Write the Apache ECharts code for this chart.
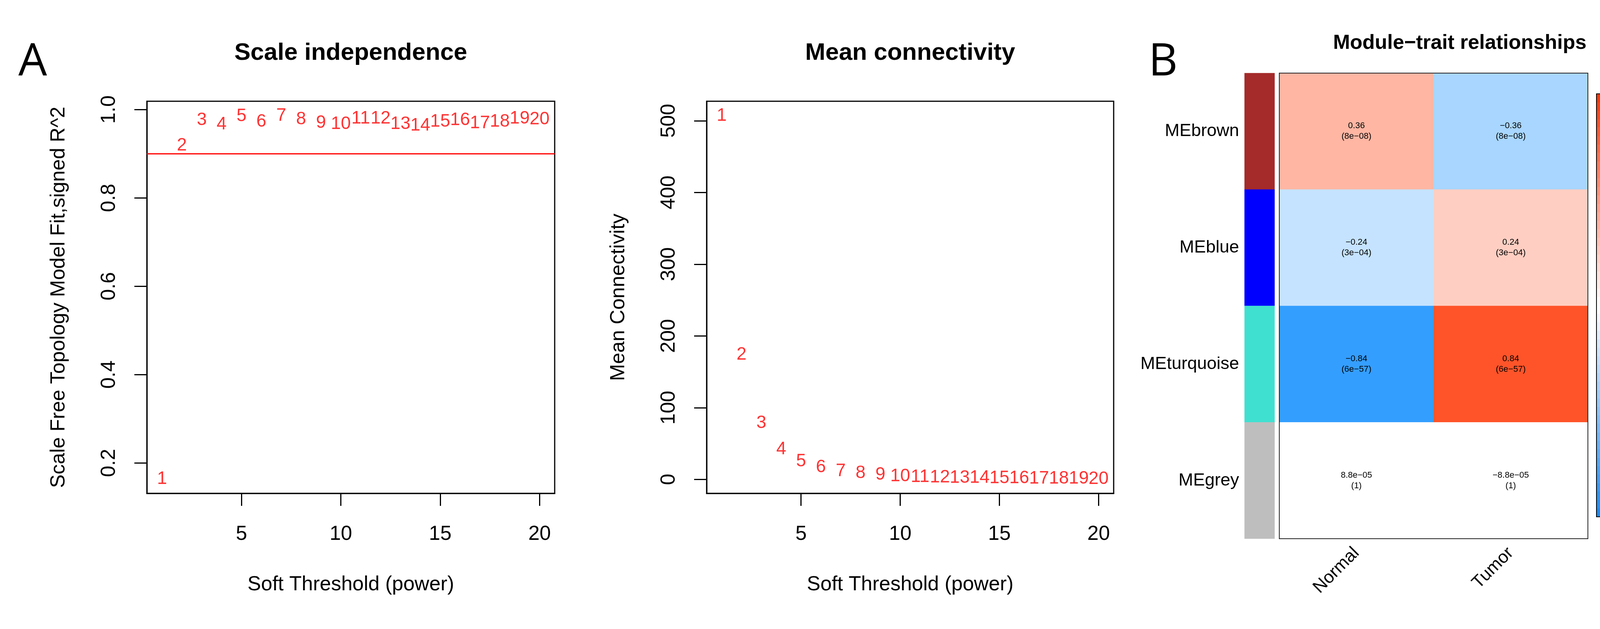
<!DOCTYPE html>
<html>
<head>
<meta charset="utf-8">
<script src="https://cdn.jsdelivr.net/npm/echarts@6/dist/echarts.min.js"></script>
<style>
  html, body { margin: 0; padding: 0; background: #fff; }
  #main { width: 4259px; height: 1609px; }
</style>
</head>
<body>
<div id="main"></div>
<script>
// soft threshold data
var powers = [1, 2, 3, 4, 5, 6, 7, 8, 9, 10, 11, 12, 13, 14, 15, 16, 17, 18, 19, 20];
var sftR2 = [0.164, 0.919, 0.976, 0.966, 0.985, 0.973, 0.986, 0.978, 0.970, 0.967,
             0.980, 0.980, 0.967, 0.964, 0.973, 0.976, 0.969, 0.973, 0.980, 0.978];
var meanK = [507, 174, 78.4, 42.1, 24.9, 16.7, 11.3, 8.6, 6.3, 4.1,
             3.5, 2.8, 2.3, 2.0, 1.7, 1.4, 1.2, 1.0, 0.9, 0.8];
var r2Cutoff = 0.9;
var xTicks = [5, 10, 15, 20];
var r2Ticks = [0.2, 0.4, 0.6, 0.8, 1.0];
var kTicks = [0, 100, 200, 300, 400, 500];

// module-trait data
var modules = ['MEbrown', 'MEblue', 'MEturquoise', 'MEgrey'];
var moduleColors = ['#A52A2A', '#0000FF', '#40E0D0', '#BEBEBE'];
var traits = ['Normal', 'Tumor'];
var corNormal = [0.36, -0.24, -0.84, 0.000088];
var corTumor = [-0.36, 0.24, 0.84, -0.000088];
var corTextNormal = ['0.36', '\u22120.24', '\u22120.84', '8.8e\u221205'];
var corTextTumor = ['\u22120.36', '0.24', '0.84', '\u22128.8e\u221205'];
var pText = ['8e\u221208', '3e\u221204', '6e\u221257', '1'];
var legendTicks = [-1, -0.5, 0, 0.5, 1];

var FONT = "'Liberation Sans', Arial, sans-serif";

// R style axis range: data range widened by 4% on each side
function rRange(arr) {
  var lo = Math.min.apply(null, arr), hi = Math.max.apply(null, arr);
  var d = (hi - lo) * 0.04;
  return [lo - d, hi + d];
}
var xr = rRange(powers);
var r2r = rRange(sftR2);
var kr = rRange(meanK);

// colour bar levels (50 steps like blueWhiteRed(50))
var barLevels = [];
for (var b = 0; b < 50; b++) barLevels.push(-1 + (b + 0.5) * 0.04);

var chart = echarts.init(document.getElementById('main'));

function xAxisFor(grid) {
  return {
    type: 'value', gridIndex: grid, min: xr[0], max: xr[1],
    axisLine: { show: true, onZero: false, lineStyle: { color: '#000', width: 3 } },
    axisTick: { show: true, inside: false, customValues: xTicks, length: 32, lineStyle: { color: '#000', width: 3 } },
    axisLabel: { customValues: xTicks, fontSize: 52, margin: 79, color: '#000', fontFamily: FONT },
    splitLine: { show: false },
    name: 'Soft Threshold (power)', nameLocation: 'middle', nameGap: 208,
    nameTextStyle: { fontSize: 52, color: '#000', fontFamily: FONT }
  };
}

function yAxisFor(grid, rng, ticks, title, fmt) {
  return {
    type: 'value', gridIndex: grid, min: rng[0], max: rng[1],
    axisLine: { show: true, onZero: false, lineStyle: { color: '#000', width: 3 } },
    axisTick: { show: true, inside: false, customValues: ticks, length: 32, lineStyle: { color: '#000', width: 3 } },
    axisLabel: { customValues: ticks, rotate: 90, fontSize: 52, margin: 70, color: '#000', fontFamily: FONT,
                 formatter: fmt },
    splitLine: { show: false },
    name: title, nameLocation: 'middle', nameGap: 199,
    nameTextStyle: { fontSize: 52, color: '#000', fontFamily: FONT }
  };
}

function labelSeries(grid, vals) {
  return {
    type: 'scatter', xAxisIndex: grid, yAxisIndex: grid,
    data: powers.map(function (p, i) { return [p, vals[i]]; }),
    symbol: 'circle', symbolSize: 1,
    itemStyle: { color: 'rgba(0,0,0,0)' },
    label: {
      show: true, position: 'inside', color: '#FF0000', fontSize: 46, fontFamily: FONT,
      formatter: function (p) { return String(p.value[0]); }
    },
    emphasis: { disabled: true },
    silent: true
  };
}

var heatData = [];
modules.forEach(function (m, i) {
  heatData.push([0, i, corNormal[i]]);
  heatData.push([1, i, corTumor[i]]);
});

var r2Series = labelSeries(0, sftR2);
r2Series.markLine = {
  silent: true, symbol: 'none',
  label: { show: false },
  lineStyle: { color: '#FF0000', width: 3, type: 'solid' },
  data: [{ yAxis: r2Cutoff }]
};

var option = {
  animation: false,
  backgroundColor: '#fff',
  title: [
    { text: 'A', left: 47, top: 102, padding: 0, textStyle: { fontSize: 116, fontWeight: 'normal', color: '#000', fontFamily: "'Open Sans', sans-serif" } },
    { text: 'B', left: 2940, top: 102, padding: 0, textStyle: { fontSize: 116, fontWeight: 'normal', color: '#000', fontFamily: "'Open Sans', sans-serif" } },
    { text: 'Scale independence', left: 898, textAlign: 'center', top: 105, padding: 0,
      textStyle: { fontSize: 62, fontWeight: 'bold', color: '#000', fontFamily: FONT } },
    { text: 'Mean connectivity', left: 2330, textAlign: 'center', top: 105, padding: 0,
      textStyle: { fontSize: 62, fontWeight: 'bold', color: '#000', fontFamily: FONT } },
    { text: 'Module\u2212trait relationships', left: 3737, textAlign: 'center', top: 85, padding: 0,
      textStyle: { fontSize: 52, fontWeight: 'bold', color: '#000', fontFamily: FONT } }
  ],
  grid: [
    { left: 376, top: 259, width: 1044, height: 1003, show: true, borderColor: '#000', borderWidth: 3, backgroundColor: 'transparent' },
    { left: 1809, top: 259, width: 1042, height: 1003, show: true, borderColor: '#000', borderWidth: 3, backgroundColor: 'transparent' },
    { left: 3275, top: 187, width: 790, height: 1191, show: true, borderColor: '#222', borderWidth: 2, backgroundColor: 'transparent', z: 10 },
    { left: 3186, top: 187, width: 77, height: 1191 },
    { left: 4087, top: 240, width: 36, height: 1082, show: true, borderColor: '#000', borderWidth: 2, backgroundColor: 'transparent', z: 10 }
  ],
  xAxis: [
    xAxisFor(0),
    xAxisFor(1),
    { type: 'category', gridIndex: 2, data: traits,
      axisLine: { show: false }, axisTick: { show: false },
      axisLabel: { rotate: 45, fontSize: 45, margin: 30, color: '#000', fontFamily: FONT } },
    { type: 'category', gridIndex: 3, data: [''], show: false },
    { type: 'category', gridIndex: 4, data: [''], show: false }
  ],
  yAxis: [
    yAxisFor(0, r2r, r2Ticks, 'Scale Free Topology Model Fit,signed R^2', function (v) { return v.toFixed(1); }),
    yAxisFor(1, kr, kTicks, 'Mean Connectivity', function (v) { return String(Math.round(v)); }),
    { type: 'category', gridIndex: 2, data: modules, inverse: true, show: false },
    { type: 'category', gridIndex: 3, data: modules, inverse: true,
      axisLine: { show: false }, axisTick: { show: false },
      axisLabel: { fontSize: 45, margin: 14, color: '#000', fontFamily: FONT } },
    { type: 'category', gridIndex: 4, data: barLevels, show: false },
    { type: 'value', gridIndex: 4, min: -1, max: 1, interval: 0.5, position: 'right',
      axisLine: { show: false },
      axisTick: { show: true, length: 23, lineStyle: { color: '#000', width: 2 } },
      axisLabel: { rotate: 90, fontSize: 44, margin: 32, color: '#000', fontFamily: FONT,
                   formatter: function (v) { return String(v).replace('-', '\u2212'); } },
      splitLine: { show: false } }
  ],
  visualMap: {
    type: 'continuous', min: -1, max: 1, show: false, seriesIndex: [2, 4], dimension: 2,
    inRange: { color: ['#0D8CFF', '#FFFFFF', '#FF3300'] }
  },
  series: [
    r2Series,
    labelSeries(1, meanK),
    {
      type: 'heatmap', xAxisIndex: 2, yAxisIndex: 2, data: heatData,
      label: {
        show: true, fontSize: 22, lineHeight: 27, color: '#000', fontFamily: FONT,
        formatter: function (p) {
          var j = p.value[0], i = p.value[1];
          var txt = j === 0 ? corTextNormal[i] : corTextTumor[i];
          return txt + '\n(' + pText[i] + ')';
        }
      },
      emphasis: { disabled: true }, silent: true
    },
    {
      type: 'heatmap', xAxisIndex: 3, yAxisIndex: 3,
      data: modules.map(function (m, i) { return { value: [0, i, 0], itemStyle: { color: moduleColors[i] } }; }),
      emphasis: { disabled: true }, silent: true
    },
    {
      type: 'heatmap', xAxisIndex: 4, yAxisIndex: 4,
      data: barLevels.map(function (v, i) { return [0, i, v]; }),
      emphasis: { disabled: true }, silent: true
    }
  ]
};

chart.setOption(option);
</script>
</body>
</html>
